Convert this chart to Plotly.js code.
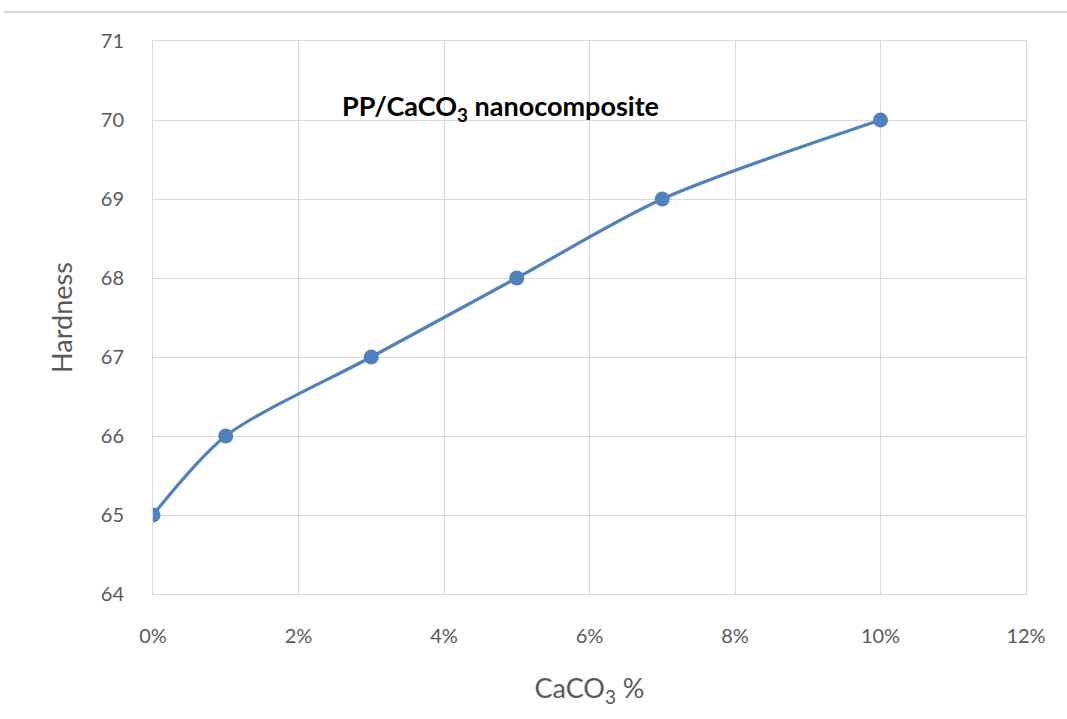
<!DOCTYPE html>
<html>
<head>
<meta charset="utf-8">
<script src="https://cdn.plot.ly/plotly-3.0.1.min.js"></script>
<style>
  html, body { margin: 0; padding: 0; background: #fff; }
  #chart { width: 1067px; height: 719px; }
</style>
</head>
<body>
<div id="chart"></div>
<script>
// CaCO3 loading (fraction) and measured hardness
const caco3Content = [0, 0.01, 0.03, 0.05, 0.07, 0.10];
const hardness = [65, 66, 67, 68, 69, 70];
const xTickValues = [0, 0.02, 0.04, 0.06, 0.08, 0.10, 0.12];
const xTickLabels = ['0%', '2%', '4%', '6%', '8%', '10%', '12%'];
const yTickValues = [64, 65, 66, 67, 68, 69, 70, 71];

const font = 'Lato, "Open Sans", sans-serif';
const blue = '#4f81bd';
const grid = '#d9d9d9';

const trace = {
  x: caco3Content,
  y: hardness,
  type: 'scatter',
  mode: 'lines+markers',
  line: { color: blue, width: 3.2, shape: 'spline', smoothing: 0.8 },
  marker: { color: blue, size: 15 },
  hoverinfo: 'x+y'
};

const layout = {
  width: 1067,
  height: 719,
  margin: { l: 153, r: 41, t: 41, b: 125 },
  paper_bgcolor: '#fff',
  plot_bgcolor: '#fff',
  showlegend: false,
  font: { family: font, color: '#595959', size: 20 },
  xaxis: {
    range: [0, 0.12],
    tickvals: xTickValues,
    ticktext: xTickLabels,
    showgrid: true,
    gridcolor: grid,
    gridwidth: 1,
    zeroline: false,
    showline: true,
    linecolor: grid,
    linewidth: 1,
    mirror: true,
    ticks: 'outside',
    ticklen: 24,
    tickcolor: 'rgba(0,0,0,0)',
    tickfont: { family: font, size: 20, color: '#595959' },
    title: { text: 'CaCO<sub>3</sub> %', font: { family: font, size: 27, color: '#595959' }, standoff: 33 }
  },
  yaxis: {
    range: [64, 71],
    tickvals: yTickValues,
    showgrid: true,
    gridcolor: grid,
    gridwidth: 1,
    zeroline: false,
    showline: true,
    linecolor: grid,
    linewidth: 1,
    mirror: true,
    ticks: 'outside',
    ticklen: 24,
    tickcolor: 'rgba(0,0,0,0)',
    tickfont: { family: font, size: 20, color: '#595959' },
    title: { text: 'Hardness', font: { family: font, size: 27, color: '#595959' }, standoff: 20 }
  },
  annotations: [{
    text: '<b>PP/CaCO<sub>3</sub> nanocomposite</b>',
    xref: 'x', yref: 'y',
    x: 0.0477, y: 70.16,
    showarrow: false,
    font: { family: font, size: 27, color: '#000' }
  }],
  shapes: [{
    type: 'line',
    xref: 'paper', yref: 'paper',
    x0: -0.171, x1: 1.05,
    y0: 1.0524, y1: 1.0524,
    line: { color: '#d9d9d9', width: 2 }
  }]
};

Plotly.newPlot('chart', [trace], layout, { displayModeBar: false, staticPlot: true });
</script>
</body>
</html>
